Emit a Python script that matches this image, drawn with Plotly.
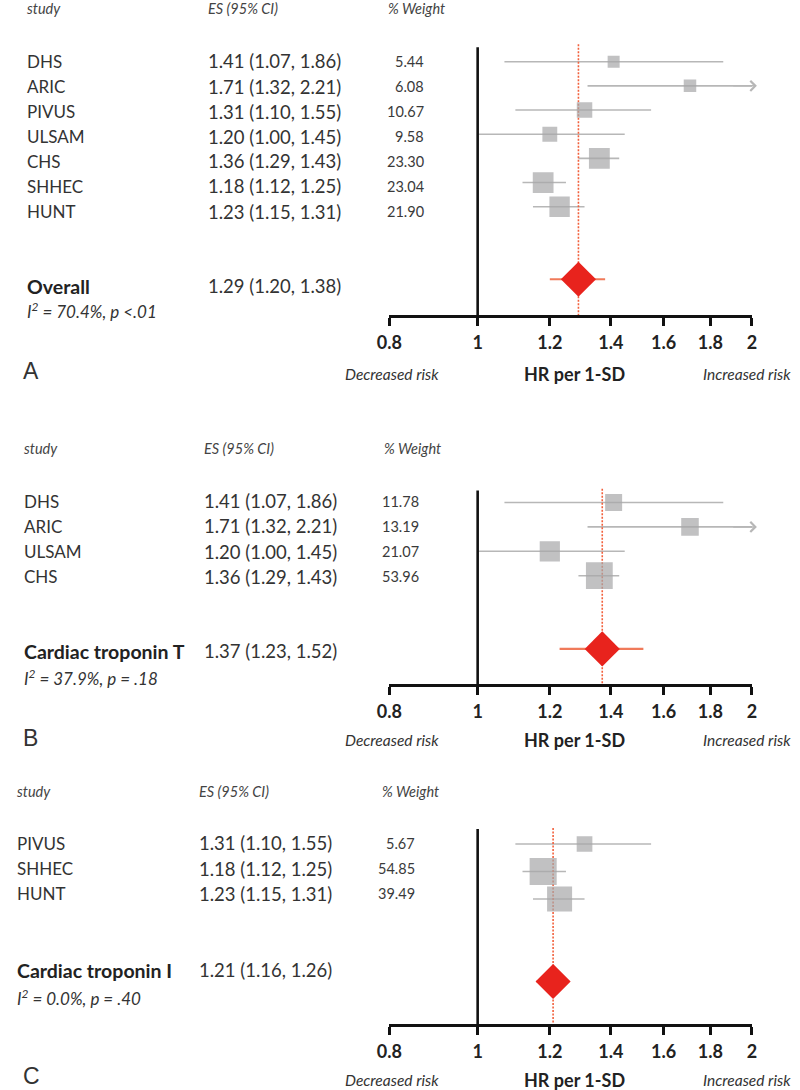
import math
import plotly.graph_objects as go

# ---------------- data ----------------
A_studies = ["DHS", "ARIC", "PIVUS", "ULSAM", "CHS", "SHHEC", "HUNT"]
A_es = [1.41, 1.71, 1.31, 1.20, 1.36, 1.18, 1.23]
A_lo = [1.07, 1.32, 1.10, 1.00, 1.29, 1.12, 1.15]
A_hi = [1.86, 2.21, 1.55, 1.45, 1.43, 1.25, 1.31]
A_w = [5.44, 6.08, 10.67, 9.58, 23.30, 23.04, 21.90]
A_sum_label = "Overall"
A_sum = [1.29, 1.20, 1.38]
A_i2 = 70.4
A_p = "&lt;.01"

B_studies = ["DHS", "ARIC", "ULSAM", "CHS"]
B_es = [1.41, 1.71, 1.20, 1.36]
B_lo = [1.07, 1.32, 1.00, 1.29]
B_hi = [1.86, 2.21, 1.45, 1.43]
B_w = [11.78, 13.19, 21.07, 53.96]
B_sum_label = "Cardiac troponin T"
B_sum = [1.37, 1.23, 1.52]
B_i2 = 37.9
B_p = "= .18"

C_studies = ["PIVUS", "SHHEC", "HUNT"]
C_es = [1.31, 1.18, 1.23]
C_lo = [1.10, 1.12, 1.15]
C_hi = [1.55, 1.25, 1.31]
C_w = [5.67, 54.85, 39.49]
C_sum_label = "Cardiac troponin I"
C_sum = [1.21, 1.16, 1.26]
C_i2 = 0.0
C_p = "= .40"

panel_letters = ["A", "B", "C"]
tick_vals = [0.8, 1, 1.2, 1.4, 1.6, 1.8, 2]
tick_text = ["0.8", "1", "1.2", "1.4", "1.6", "1.8", "2"]
header_labels = ["study", "ES (95% CI)", "% Weight"]
x_title = "HR per 1-SD"
left_note = "Decreased risk"
right_note = "Increased risk"

# ---------------- layout constants (pixels) ----------------
W, H = 800, 1090
X_MIN, X_MAX = 0.8, 2.0
ARROW_TIP = 2.025
AX_LEFT, AX_RIGHT = 385, 756

panels = [
    dict(studies=A_studies, es=A_es, lo=A_lo, hi=A_hi, w=A_w, sl=A_sum_label, s=A_sum, i2=A_i2, p=A_p,
         row0=61.7, sp=24.17, axis=315, top=28, vtop=-0.6, rtop=-0.72,
         trow0=61.5, tsp=25.0, hdr=8, sumy=286, hety=310, boty=374, laby=371,
         xs=12, xes=197, xw=422, xwh=382, sc=6.3, se=0.38),
    dict(studies=B_studies, es=B_es, lo=B_lo, hi=B_hi, w=B_w, sl=B_sum_label, s=B_sum, i2=B_i2, p=B_p,
         row0=502.5, sp=24.4, axis=684, top=470, vtop=-0.49, rtop=-0.56,
         trow0=501, tsp=25.3, hdr=448, sumy=651, hety=677, boty=740, laby=738,
         xs=9, xes=193, xw=417, xwh=378, sc=8.1, se=0.30),
    dict(studies=C_studies, es=C_es, lo=C_lo, hi=C_hi, w=C_w, sl=C_sum_label, s=C_sum, i2=C_i2, p=C_p,
         row0=844, sp=27.5, axis=1024, top=810, vtop=-0.55, rtop=-0.58,
         trow0=843.5, tsp=25.2, hdr=791, sumy=970, hety=997, boty=1080, laby=1076,
         xs=2, xes=188, xw=413, xwh=375, sc=10.35, se=0.24),
]

FONT = "Lato"
TXT = "#333333"
GREY_LINE = "#b7b7b7"
GREY_BOX = "#a6a6a8"
RED = "#e8231d"
RED_LINE = "#f07a5a"
RED_DOT = "#f2603c"


def py(px):
    return 1 - px / H


def pxx(px):
    return px / W


fig = go.Figure()
annotations = []
layout_axes = {}

for k, P in enumerate(panels):
    n = len(P["studies"])
    xr = "x" if k == 0 else f"x{k+1}"
    yr = "y" if k == 0 else f"y{k+1}"
    xa = "xaxis" if k == 0 else f"xaxis{k+1}"
    ya = "yaxis" if k == 0 else f"yaxis{k+1}"
    y_bot = (P["axis"] - P["row0"]) / P["sp"]
    y_top = (P["top"] - P["row0"]) / P["sp"]
    sum_row = n + 2

    layout_axes[xa] = dict(
        type="log", range=[math.log10(X_MIN), math.log10(X_MAX)],
        domain=[pxx(AX_LEFT), pxx(AX_RIGHT)], anchor=yr,
        showline=True, linewidth=2.6, linecolor="#111111",
        ticks="outside", ticklen=8, tickwidth=2.6, tickcolor="#111111",
        tickvals=tick_vals, ticktext=tick_text,
        tickfont=dict(family=FONT, size=18, color="#222222", weight="bold"),
        showgrid=False, zeroline=False, ticklabelstandoff=2,
    )
    layout_axes[ya] = dict(
        range=[y_bot, y_top], domain=[py(P["axis"]), py(P["top"])], anchor=xr,
        visible=False, showgrid=False, zeroline=False,
    )

    # grey CI lines
    cx, cy = [], []
    for i in range(n):
        cx += [P["lo"][i], P["hi"][i], None]
        cy += [i, i, None]
    fig.add_trace(go.Scatter(x=cx, y=cy, mode="lines", xaxis=xr, yaxis=yr,
                             line=dict(color=GREY_LINE, width=1.6), hoverinfo="skip"))
    # red dotted line at pooled estimate
    fig.add_trace(go.Scatter(x=[P["s"][0], P["s"][0]], y=[P["rtop"], y_bot], mode="lines",
                             xaxis=xr, yaxis=yr,
                             line=dict(color=RED_DOT, width=1.6, dash="2px,1.5px"), hoverinfo="skip"))
    # vertical null line
    fig.add_trace(go.Scatter(x=[1, 1], y=[P["vtop"], y_bot], mode="lines", xaxis=xr, yaxis=yr,
                             line=dict(color="#111111", width=2.6), hoverinfo="skip"))
    # weight squares
    sizes = [P["sc"] * (w ** P["se"]) for w in P["w"]]
    fig.add_trace(go.Scatter(x=P["es"], y=list(range(n)), mode="markers", xaxis=xr, yaxis=yr,
                             marker=dict(symbol="square", size=sizes, color=GREY_BOX, line=dict(width=0)),
                             hoverinfo="skip"))
    # pooled CI + diamond
    fig.add_trace(go.Scatter(x=[P["s"][1], P["s"][2]], y=[sum_row, sum_row], mode="lines",
                             xaxis=xr, yaxis=yr, line=dict(color=RED_LINE, width=2.2), hoverinfo="skip"))
    fig.add_trace(go.Scatter(x=[P["s"][0]], y=[sum_row], mode="markers", xaxis=xr, yaxis=yr,
                             marker=dict(symbol="diamond", size=27, color=RED, line=dict(width=0)),
                             hoverinfo="skip"))

    # arrows for CIs beyond the axis
    for i in range(n):
        if P["hi"][i] > X_MAX:
            annotations.append(dict(
                x=math.log10(ARROW_TIP), y=i, ax=math.log10(1.9), ay=i,
                xref=xr, yref=yr, axref=xr, ayref=yr, text="", showarrow=True,
                arrowhead=4, arrowsize=1.3, arrowwidth=1.5, arrowcolor=GREY_LINE))

    # headers
    hdr_font = dict(family=FONT, size=14.5, color="#444444", style="italic")
    for txt, xpos in zip(header_labels, [P["xs"], P["xes"], P["xwh"]]):
        annotations.append(dict(x=pxx(xpos), y=py(P["hdr"]), xref="paper", yref="paper",
                                text=txt, showarrow=False, xanchor="left", yanchor="middle",
                                font=hdr_font))
    # study rows
    for i in range(n):
        ty = py(P["trow0"] + i * P["tsp"])
        annotations.append(dict(x=pxx(P["xs"]), y=ty, xref="paper", yref="paper",
                                text=P["studies"][i], showarrow=False, xanchor="left", yanchor="middle",
                                font=dict(family=FONT, size=17, color=TXT)))
        annotations.append(dict(x=pxx(P["xes"]), y=ty, xref="paper", yref="paper",
                                text=f"{P['es'][i]:.2f} ({P['lo'][i]:.2f}, {P['hi'][i]:.2f})",
                                showarrow=False, xanchor="left", yanchor="middle",
                                font=dict(family=FONT, size=18.5, color=TXT)))
        annotations.append(dict(x=pxx(P["xw"]), y=ty, xref="paper", yref="paper",
                                text=f"{P['w'][i]:.2f}", showarrow=False, xanchor="right", yanchor="middle",
                                font=dict(family=FONT, size=14.5, color="#3a3a3a")))
    # summary
    annotations.append(dict(x=pxx(P["xs"]), y=py(P["sumy"]), xref="paper", yref="paper",
                            text=f"<b>{P['sl']}</b>", showarrow=False, xanchor="left", yanchor="middle",
                            font=dict(family=FONT, size=19.5, color="#222222")))
    annotations.append(dict(x=pxx(P["xes"]), y=py(P["sumy"]), xref="paper", yref="paper",
                            text=f"{P['s'][0]:.2f} ({P['s'][1]:.2f}, {P['s'][2]:.2f})",
                            showarrow=False, xanchor="left", yanchor="middle",
                            font=dict(family=FONT, size=18.5, color=TXT)))
    annotations.append(dict(x=pxx(P["xs"]), y=py(P["hety"]), xref="paper", yref="paper",
                            text=f"<i>I<sup>2</sup> = {P['i2']:.1f}%, p {P['p']}</i>",
                            showarrow=False, xanchor="left", yanchor="middle",
                            font=dict(family=FONT, size=17, color=TXT)))
    # bottom notes
    annotations.append(dict(x=pxx(338), y=py(P["boty"]), xref="paper", yref="paper",
                            text=left_note, showarrow=False, xanchor="left", yanchor="middle",
                            font=dict(family=FONT, size=15.5, color="#333333", style="italic")))
    annotations.append(dict(x=pxx(574.5), y=py(P["boty"]), xref="paper", yref="paper",
                            text=f"<b>{x_title}</b>", showarrow=False, xanchor="center", yanchor="middle",
                            font=dict(family=FONT, size=18, color="#222222")))
    annotations.append(dict(x=pxx(798), y=py(P["boty"]), xref="paper", yref="paper",
                            text=right_note, showarrow=False, xanchor="right", yanchor="middle",
                            font=dict(family=FONT, size=15.5, color="#333333", style="italic")))
    # panel letter
    annotations.append(dict(x=pxx(8), y=py(P["laby"]), xref="paper", yref="paper",
                            text=panel_letters[k], showarrow=False, xanchor="left", yanchor="middle",
                            font=dict(family="Liberation Sans", size=23, color="#333333")))

fig.update_layout(
    width=W, height=H, margin=dict(l=0, r=0, t=0, b=0),
    paper_bgcolor="white", plot_bgcolor="white", showlegend=False,
    annotations=annotations, **layout_axes,
)

fig.write_html("out.html", config={"displayModeBar": False},
               post_script="document.body.style.margin='0';document.body.style.overflow='hidden';")
